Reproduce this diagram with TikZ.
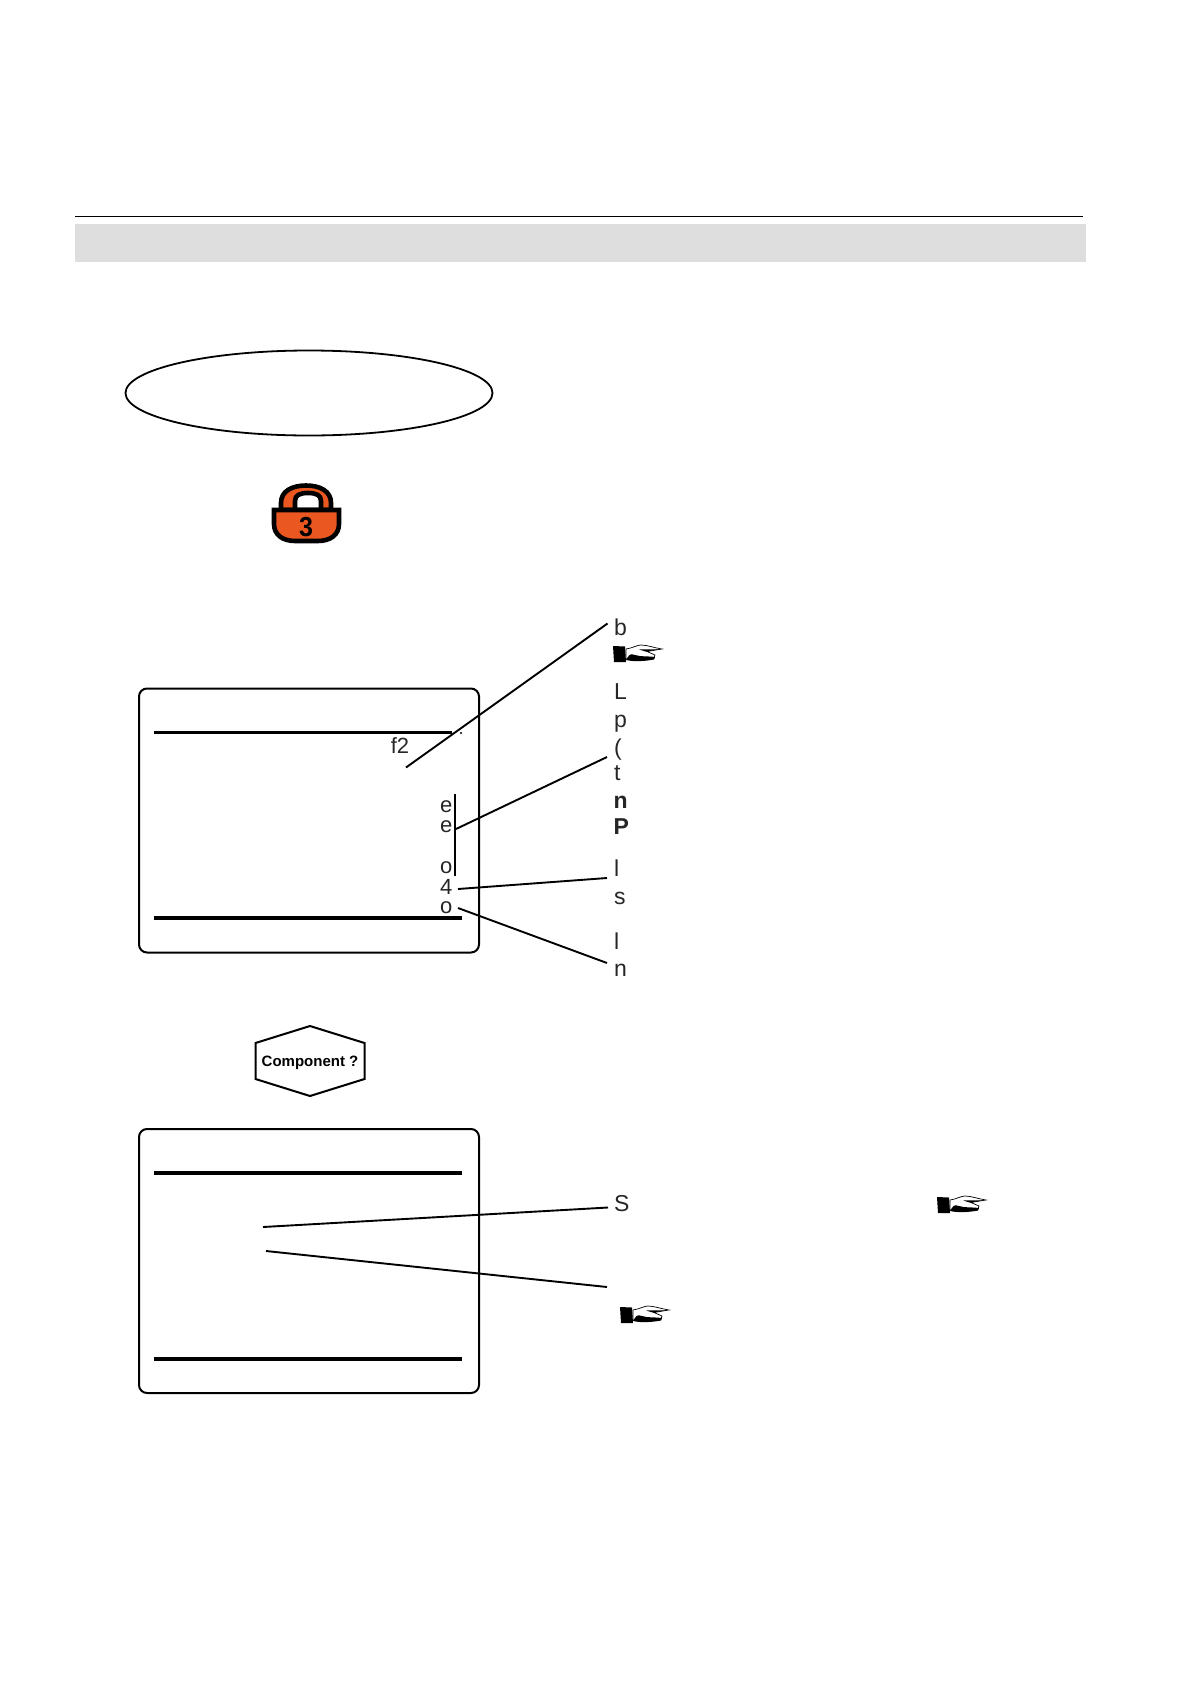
\documentclass[tikz,border=0pt]{standalone}
\usepackage{fontspec}
\setmainfont{Liberation Sans}
\usetikzlibrary{shapes.geometric}
\definecolor{bandgray}{HTML}{DEDEDE}
\definecolor{lockorange}{HTML}{EB5720}
\tikzstyle{screen} = [rectangle, rounded corners=8pt, minimum width=340pt, minimum height=264pt, draw=black, line width=2pt, inner sep=0pt]
\tikzstyle{oval} = [ellipse, minimum width=367pt, minimum height=85pt, draw=black, line width=1.8pt, inner sep=0pt]
\tikzstyle{rulebar} = [line width=3.2pt]
\tikzstyle{leader} = [line width=1.9pt]
\tikzstyle{rlabel} = [anchor=west, inner sep=0pt, font=\fontsize{23}{23}\selectfont, text=black!85]
\tikzstyle{llabel} = [anchor=east, inner sep=0pt, font=\fontsize{22}{22}\selectfont, text=black!85]
\tikzset{
  hand/.pic={
    \fill[black] (0,-8) -- (12,-7.5) -- (13,8) -- (1,8) -- cycle;
    \filldraw[fill=white, draw=black, line width=0.7pt] (13,-5) .. controls (20,-6) and (24,-9) .. (28,-9) .. controls (34,-9) and (42,-6) .. (49,-5) -- (34,-2.5) -- (42,1) -- (41,4) .. controls (33,6) and (22,7) .. (13,5) -- cycle;
    \fill[black] (13,6) .. controls (16,1) and (17,-1) .. (22,1) .. controls (28,3) and (36,2) .. (42,3) -- (41,5.5) .. controls (33,7) and (22,8) .. (13,6) -- cycle;
    \fill[black] (26,-4.5) -- (46,-4.8) -- (33,-2.4) -- cycle;
  }
}
\begin{document}
\begin{tikzpicture}[x=1pt, y=-1pt]
\useasboundingbox (0,0) rectangle (1191,1684);

% page head
\coordinate (ruleL) at (75,216);
\coordinate (ruleR) at (1083,216);
\draw [line width=1pt] (ruleL) -- (ruleR);
\fill [bandgray] (75,224) rectangle (1086,262);
\node (oval1) [oval] at (309,393) {};

% lock
\filldraw [fill=lockorange, line width=4.6pt] (281,510) -- (281,503) .. controls (281,491) and (292,485.5) .. (306,485.5) .. controls (320,485.5) and (331,491) .. (331,503) -- (331,510) -- cycle;
\filldraw [fill=white, line width=4.6pt] (295,510) -- (295,501) .. controls (295,495) and (300,493) .. (308,493) .. controls (316,493) and (321,495) .. (321,501) -- (321,510) -- cycle;
\filldraw [fill=lockorange, line width=4.6pt] (274,510) -- (339,510) -- (339,524) .. controls (339,535) and (330,541) .. (318,541) -- (295,541) .. controls (283,541) and (274,535) .. (274,524) -- cycle;
\node (lockno) at (306,527) [inner sep=0pt, yscale=1.1, font=\fontsize{25}{25}\selectfont\bfseries] {3};

% upper screen
\node (scr1) [screen] at (309,820.5) {};
\coordinate (r1a) at (154,732.5);
\coordinate (r1b) at (452,732.5);
\coordinate (r1c) at (154,918);
\coordinate (r1d) at (462,918);
\draw [rulebar] (r1a) -- (r1b);
\draw [rulebar] (r1c) -- (r1d);
\node (dot1) at (461,733) [circle, fill=black, inner sep=0.8pt] {};
\node (f2) at (400,745.5) [inner sep=0pt, font=\fontsize{22}{22}\selectfont, text=black!85] {f2};
\node (e1) [llabel] at (452.5,807) {e};
\node (e2) [llabel] at (452.5,827) {e};
\node (o1) [llabel] at (452.5,868) {o};
\node (n4) [llabel] at (452.5,886.5) {4};
\node (o2) [llabel] at (452.5,908) {o};
\coordinate (barT) at (455,794);
\coordinate (barB) at (455,876);
\draw [leader] (barT) -- (barB);

% labels on the right
\node (b) [rlabel] at (614,627) {b};
\node (L) [rlabel] at (614,692) {L};
\node (p) [rlabel] at (614,723.5) {p};
\node (par) [rlabel] at (614,750) {(};
\node (t) [rlabel] at (614,773) {t};
\node (n) [rlabel] at (613.5,802) {\textbf{n}};
\node (P) [rlabel] at (613.5,827) {\textbf{P}};
\node (l1) [rlabel] at (614,868) {l};
\node (s) [rlabel] at (614,898) {s};
\node (l2) [rlabel] at (614,941) {l};
\node (n2) [rlabel] at (614,970) {n};
\pic at (613,654) {hand};

\coordinate (bIn) at (406,767.5);
\coordinate (bOut) at (607.5,623.5);
\coordinate (pIn) at (456,829);
\coordinate (pOut) at (607,757);
\coordinate (fourIn) at (458,889);
\coordinate (fourOut) at (607,878);
\coordinate (oIn) at (458,908);
\coordinate (oOut) at (607,963);
\draw [leader] (bIn) -- (bOut);
\draw [leader] (pIn) -- (pOut);
\draw [leader] (fourIn) -- (fourOut);
\draw [leader] (oIn) -- (oOut);

% component prompt
\node (comp) at (310,1062.5) [inner sep=0pt, font=\fontsize{15}{15}\selectfont\bfseries] {Component ?};
\draw [line width=2pt, line join=miter] (310,1026) -- (364.5,1043) -- (364.5,1079) -- (310,1096) -- (255.5,1079) -- (255.5,1043) -- cycle;

% lower screen
\node (scr2) [screen] at (309,1261) {};
\coordinate (r2a) at (154,1173);
\coordinate (r2b) at (462,1173);
\coordinate (r2c) at (154,1359);
\coordinate (r2d) at (462,1359);
\draw [rulebar] (r2a) -- (r2b);
\draw [rulebar] (r2c) -- (r2d);

\node (S) [rlabel] at (614,1204) {S};
\pic at (937,1205) {hand};
\pic at (620,1315) {hand};
\coordinate (sIn) at (263,1227);
\coordinate (sOut) at (608,1207.5);
\coordinate (hIn) at (266,1251);
\coordinate (hOut) at (607,1287);
\draw [leader] (sIn) -- (sOut);
\draw [leader] (hIn) -- (hOut);

\end{tikzpicture}
\end{document}
